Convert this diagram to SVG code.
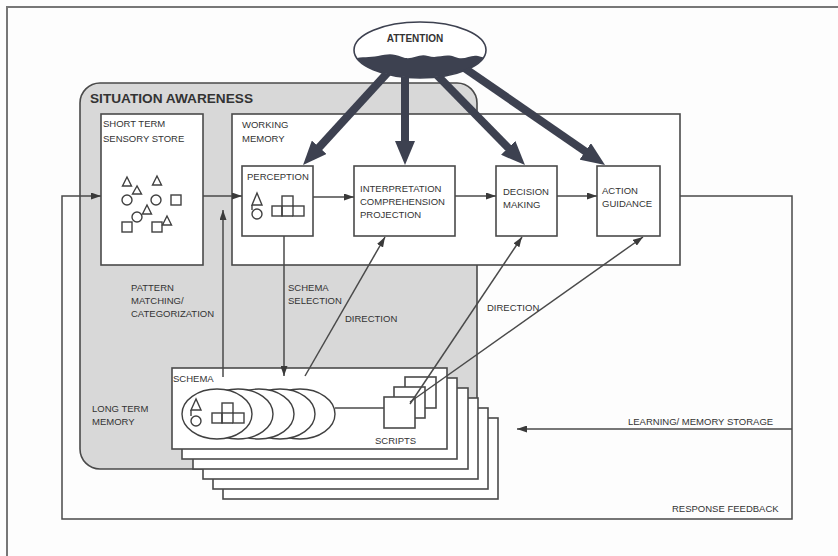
<svg xmlns="http://www.w3.org/2000/svg" width="838" height="556" viewBox="0 0 838 556">
<defs>
<style>
.ln{fill:none;stroke:#4a4a4a;stroke-width:1.5}
.box{fill:#fff;stroke:#4a4a4a;stroke-width:1.6}
.shp{fill:none;stroke:#404040;stroke-width:1.4}
.t{font-family:"Liberation Sans",Arial,sans-serif;font-size:9.5px;fill:#333}
.tb{font-family:"Liberation Sans",Arial,sans-serif;font-weight:bold;fill:#333}
.thick{fill:none;stroke:#3d4150;stroke-width:8}
</style>
<marker id="ah" viewBox="0 0 10 7" markerWidth="10" markerHeight="7" refX="10" refY="3.5" orient="auto" markerUnits="userSpaceOnUse">
<path d="M0,0 L10,3.5 L0,7 z" fill="#3a3a3a"/>
</marker>
<marker id="big" viewBox="0 0 24 20" markerWidth="24" markerHeight="20" refX="2" refY="10" orient="auto" markerUnits="userSpaceOnUse">
<path d="M0,0 L24,10 L0,20 z" fill="#3d4150"/>
</marker>
<clipPath id="attClip"><ellipse cx="420" cy="50" rx="66" ry="28"/></clipPath>
</defs>
<rect x="0" y="0" width="838" height="556" fill="#fdfdfd"/>
<path d="M7,556 V7 H838" fill="none" stroke="#777" stroke-width="2"/>

<g id="situation-awareness">
<rect x="80" y="83" width="397" height="386" rx="20" fill="#d8d8d8" stroke="#4a4a4a" stroke-width="1.6"/>
<text class="tb" x="90" y="103" font-size="13" textLength="163" lengthAdjust="spacingAndGlyphs">SITUATION AWARENESS</text>
</g>

<g id="sensory-store">
<rect class="box" x="101" y="114" width="102" height="151"/>
<text class="t" x="103" y="127">SHORT TERM</text>
<text class="t" x="103" y="142">SENSORY STORE</text>
<g class="shp">
<path d="M127,177 L122.5,186 L131.5,186 Z"/>
<path d="M137,186 L132.5,194 L141.5,194 Z"/>
<path d="M157,176 L152.5,185 L161.5,185 Z"/>
<circle cx="127" cy="200" r="5"/>
<circle cx="156" cy="200" r="5"/>
<rect x="171" y="195" width="10" height="10"/>
<path d="M147,205 L142.5,214 L151.5,214 Z"/>
<circle cx="137" cy="217" r="5"/>
<rect x="122" y="222" width="10" height="10"/>
<path d="M167,216 L162.5,225 L171.5,225 Z"/>
<rect x="152" y="222" width="10" height="10"/>
</g>
</g>

<g id="working-memory">
<rect class="box" x="232" y="114" width="448" height="151"/>
<text class="t" x="242" y="128">WORKING</text>
<text class="t" x="242" y="142">MEMORY</text>
</g>

<g id="perception">
<rect class="box" x="242" y="166" width="71" height="70"/>
<text class="t" x="247" y="180">PERCEPTION</text>
<g class="shp">
<path d="M257,193 L252,205 L262,205 Z"/>
<path d="M252,205 L252,210"/>
<circle cx="257" cy="214" r="5"/>
<rect x="272" y="206" width="10" height="10"/>
<rect x="282" y="196" width="11" height="10"/>
<rect x="293" y="206" width="11" height="10"/>
<path d="M282,206 V216 H293"/>
</g>
</g>

<g id="interpretation">
<rect class="box" x="354" y="166" width="101" height="70"/>
<text class="t" x="360" y="192">INTERPRETATION</text>
<text class="t" x="360" y="205">COMPREHENSION</text>
<text class="t" x="360" y="218">PROJECTION</text>
</g>

<g id="decision-making">
<rect class="box" x="496" y="166" width="61" height="70"/>
<text class="t" x="503" y="195">DECISION</text>
<text class="t" x="503" y="208">MAKING</text>
</g>

<g id="action-guidance">
<rect class="box" x="597" y="166" width="63" height="70"/>
<text class="t" x="602" y="194">ACTION</text>
<text class="t" x="602" y="207">GUIDANCE</text>
</g>

<g id="schema-stack">
<rect class="box" x="223" y="418" width="275" height="81"/>
<rect class="box" x="213" y="408" width="275" height="81"/>
<rect class="box" x="203" y="398" width="275" height="81"/>
<rect class="box" x="193" y="388" width="275" height="81"/>
<rect class="box" x="182" y="378" width="275" height="81"/>
<rect class="box" x="172" y="368" width="275" height="81"/>
<text class="t" x="173" y="382" font-size="8.5">SCHEMA</text>
<g fill="#fff" stroke="#404040" stroke-width="1.4">
<ellipse cx="300" cy="414" rx="35" ry="25"/>
<ellipse cx="280" cy="414" rx="35" ry="25"/>
<ellipse cx="259" cy="414" rx="35" ry="25"/>
<ellipse cx="238" cy="414" rx="35" ry="25"/>
<ellipse cx="217" cy="414" rx="35" ry="25"/>
</g>
<g class="shp">
<path d="M196,399 L191,410 L201,410 Z"/>
<path d="M191,410 L191,416"/>
<circle cx="196" cy="421" r="5"/>
<rect x="212" y="413" width="10" height="10"/>
<rect x="222" y="403" width="11" height="10"/>
<rect x="233" y="413" width="11" height="10"/>
<path d="M222,413 V423 H233"/>
</g>
</g>

<g id="scripts">
<rect class="box" x="405" y="377" width="31" height="31"/>
<rect class="box" x="394" y="387" width="31" height="31"/>
<rect class="box" x="384" y="397" width="31" height="31"/>
<text class="t" x="375" y="444" font-size="8.5">SCRIPTS</text>
</g>

<g id="long-term-memory-label">
<text class="t" x="92" y="412">LONG TERM</text>
<text class="t" x="92" y="425">MEMORY</text>
</g>

<g id="connectors">
<path class="ln" d="M680,196 H792 V519 H62 V196 H101" marker-end="url(#ah)"/>
<path class="ln" d="M203,196 H242" marker-end="url(#ah)"/>
<path class="ln" d="M313,197 H354" marker-end="url(#ah)"/>
<path class="ln" d="M455,196 H496" marker-end="url(#ah)"/>
<path class="ln" d="M557,196 H597" marker-end="url(#ah)"/>
<path class="ln" d="M223,377 V210" marker-end="url(#ah)"/>
<path class="ln" d="M284,236 V376" marker-end="url(#ah)"/>
<path class="ln" d="M305,376 L385,237" marker-end="url(#ah)"/>
<path class="ln" d="M410,404 L522,237" marker-end="url(#ah)"/>
<path class="ln" d="M410,402 L643,237" marker-end="url(#ah)"/>
<path class="ln" d="M792,429 H517" marker-end="url(#ah)"/>
<path class="ln" d="M335,408 H384"/>
<path class="thick" d="M390,70 L317.9,148.8" marker-end="url(#big)"/>
<path class="thick" d="M405,70 L405,143" marker-end="url(#big)"/>
<path class="thick" d="M432,70 L509.6,149.3" marker-end="url(#big)"/>
<path class="thick" d="M460,65 L586.9,152.5" marker-end="url(#big)"/>
<text class="t" x="131" y="291">PATTERN</text>
<text class="t" x="131" y="304">MATCHING/</text>
<text class="t" x="131" y="317">CATEGORIZATION</text>
<text class="t" x="288" y="291">SCHEMA</text>
<text class="t" x="288" y="304">SELECTION</text>
<text class="t" x="345" y="322">DIRECTION</text>
<text class="t" x="487" y="311">DIRECTION</text>
<text class="t" x="628" y="425">LEARNING/ MEMORY STORAGE</text>
<text class="t" x="672" y="512">RESPONSE FEEDBACK</text>
</g>

<g id="attention">
<ellipse cx="420" cy="50" rx="66" ry="28" fill="#fff"/>
<path clip-path="url(#attClip)" fill="#3d4150" d="M350,60 C360,56 368,58 378,56 S392,53 402,57 S418,53 428,56 S445,53 455,57 S470,54 478,56 S486,58 492,60 V90 H350 Z"/>
<ellipse cx="420" cy="50" rx="66" ry="28" fill="none" stroke="#3d4150" stroke-width="1.6"/>
<text class="tb" x="415" y="42" font-size="10" text-anchor="middle">ATTENTION</text>
</g>
</svg>
